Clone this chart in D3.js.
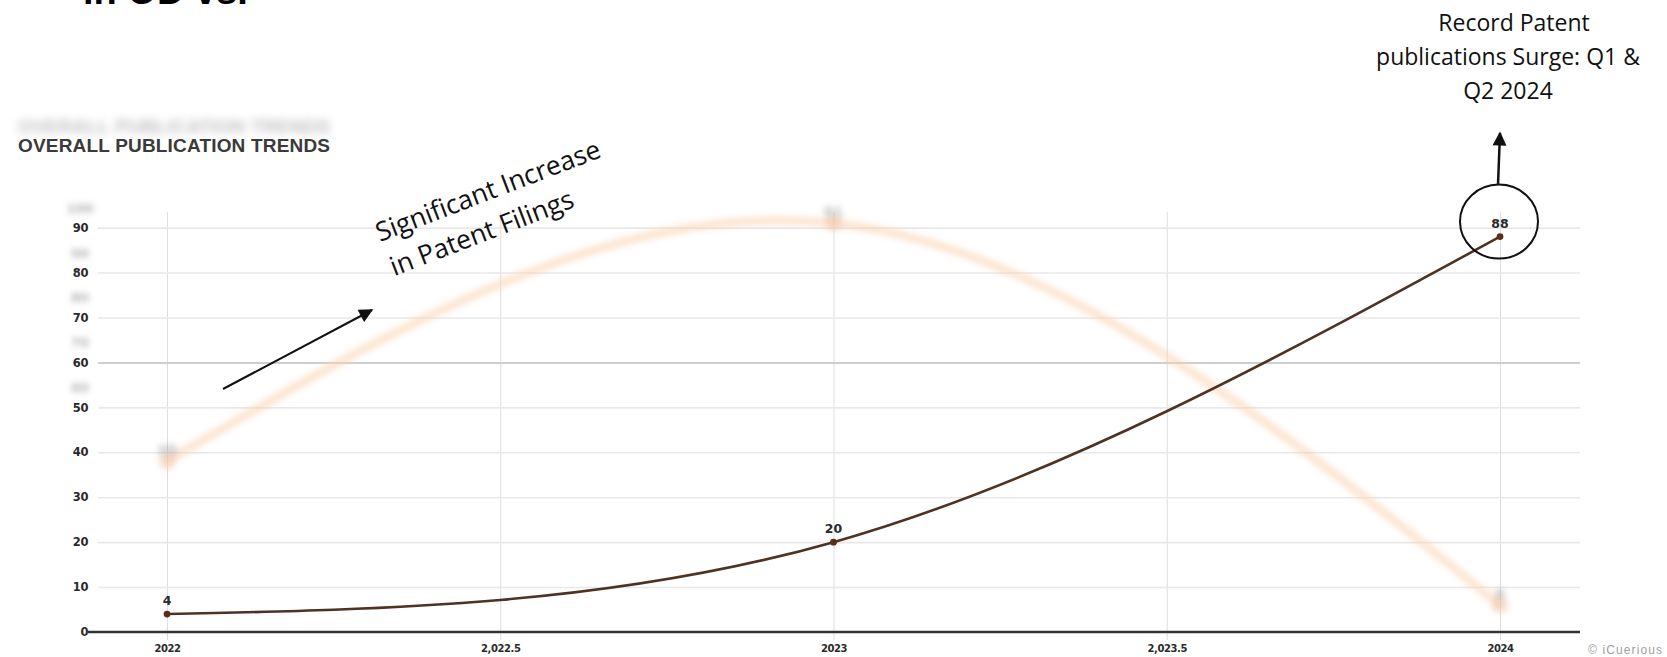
<!DOCTYPE html>
<html lang="en">
<head>
<meta charset="UTF-8">
<title>Overall Publication Trends</title>
<script src="https://cdn.jsdelivr.net/npm/d3@7"></script>
<style>
  body { margin: 0; background: #fff; }
  svg { display: block; }
</style>
</head>
<body>
<div id="chart"></div>
<script>
// data
const years = [2022, 2023, 2024];
const filings = [4, 20, 88];
// faded (blurred) background series
const ghostFilings = [38, 91, 6];
const xTicks = [2022, 2022.5, 2023, 2023.5, 2024];
const xTickLabels = ["2022", "2,022.5", "2023", "2,023.5", "2024"];
const yTicks = [0, 10, 20, 30, 40, 50, 60, 70, 80, 90];
const ghostYTicks = [50, 60, 70, 80, 90];
const ghostYLabels = ["60", "70", "80", "90", "100"];

const w = 1667, h = 657;
const left = 98, right = 1580;

const x = d3.scaleLinear().domain([2022, 2024]).range([167, 1500]);
const y = d3.scaleLinear().domain([0, 90]).range([632, 227.6]);

const svg = d3.select('#chart').append('svg')
  .attr('width', w).attr('height', h);

const defs = svg.append('defs');
const blur = (id, sd) => defs.append('filter')
  .attr('id', id).attr('filterUnits', 'userSpaceOnUse')
  .attr('x', 0).attr('y', 0).attr('width', w).attr('height', h)
  .append('feGaussianBlur').attr('stdDeviation', sd);
blur('blurLine', 3.4);
blur('blurText', 3);
blur('blurTitle', 4);

defs.append('marker')
  .attr('id', 'head')
  .attr('viewBox', '0 0 10 10')
  .attr('refX', 9).attr('refY', 5)
  .attr('markerUnits', 'userSpaceOnUse')
  .attr('markerWidth', 15).attr('markerHeight', 14)
  .attr('orient', 'auto')
  .append('path').attr('d', 'M0,0 L10,5 L0,10 z').attr('fill', '#111');

// cut-off heading at the very top
svg.append('text')
  .attr('x', 83).attr('y', 4)
  .style('font-family', 'Liberation Sans, Arial, sans-serif')
  .style('font-weight', 'bold').style('font-size', '38px')
  .attr('fill', '#000')
  .text('in OD vs.');

// ghost title and chart title
svg.append('text')
  .attr('x', 18).attr('y', 133)
  .attr('filter', 'url(#blurTitle)')
  .attr('fill', '#8a8a8a').attr('opacity', 0.55)
  .attr('textLength', 312)
  .style('font-family', 'Liberation Sans, Arial, sans-serif')
  .style('font-weight', 'bold').style('font-size', '19px')
  .text('OVERALL PUBLICATION TRENDS');

svg.append('text')
  .attr('x', 18).attr('y', 152)
  .attr('fill', '#3a3a3a')
  .attr('textLength', 312)
  .style('font-family', 'Liberation Sans, Arial, sans-serif')
  .style('font-weight', 'bold').style('font-size', '19px')
  .text('OVERALL PUBLICATION TRENDS');

// vertical grid
const xGrid = svg.append('g')
  .attr('transform', 'translate(0, 640)')
  .call(d3.axisBottom(x).tickValues(xTicks).tickSize(-428).tickFormat(''));
xGrid.select('.domain').remove();
xGrid.selectAll('line').attr('stroke', '#dedede').attr('stroke-width', 1);

// horizontal grid
const yGrid = svg.append('g')
  .attr('transform', `translate(${left}, 0)`)
  .call(d3.axisLeft(y).tickValues(yTicks.slice(1)).tickSize(-(right - left)).tickFormat(''));
yGrid.select('.domain').remove();
yGrid.selectAll('line')
  .attr('stroke', d => d === 60 ? '#cfcfcf' : '#e8e8e8')
  .attr('stroke-width', d => d === 60 ? 2 : 1.6);

// baseline
svg.append('line')
  .attr('x1', 88).attr('x2', right)
  .attr('y1', y(0)).attr('y2', y(0))
  .attr('stroke', '#333').attr('stroke-width', 2.6);

// ghost y labels
svg.append('g').selectAll('text')
  .data(ghostYTicks)
  .enter().append('text')
  .attr('x', 80).attr('y', d => y(d) - 15)
  .attr('text-anchor', 'middle')
  .attr('filter', 'url(#blurText)')
  .attr('fill', '#999').attr('opacity', 0.75)
  .style('font-family', 'DejaVu Sans, sans-serif')
  .style('font-weight', 'bold').style('font-size', '13px')
  .text((d, i) => ghostYLabels[i]);

// y axis labels
const yAxis = svg.append('g')
  .attr('transform', 'translate(88, 0)')
  .call(d3.axisLeft(y).tickValues(yTicks).tickSize(0).tickPadding(0));
yAxis.select('.domain').remove();
yAxis.selectAll('text')
  .attr('fill', '#2a2a2a')
  .style('font-family', 'DejaVu Sans, sans-serif')
  .style('font-weight', 'bold').style('font-size', '11.5px')
  .style('letter-spacing', '-0.4px');

// x axis labels
const xAxis = svg.append('g')
  .attr('transform', `translate(0, ${y(0)})`)
  .call(d3.axisBottom(x).tickValues(xTicks).tickSize(0).tickPadding(12.5)
    .tickFormat((d, i) => xTickLabels[i]));
xAxis.select('.domain').remove();
xAxis.selectAll('text')
  .attr('fill', '#2a2a2a')
  .style('font-family', 'DejaVu Sans, sans-serif')
  .style('font-weight', 'bold').style('font-size', '10px')
  .style('letter-spacing', '-0.4px');

// faded background series
const ghost = years.map((yr, i) => ({ year: yr, value: ghostFilings[i] }));
const line = d3.line()
  .x(d => x(d.year))
  .y(d => y(d.value))
  .curve(d3.curveNatural);

svg.append('path')
  .datum(ghost)
  .attr('d', line)
  .attr('fill', 'none')
  .attr('stroke', '#fbd0ad')
  .attr('stroke-width', 8)
  .attr('opacity', 0.6)
  .attr('filter', 'url(#blurLine)');

svg.append('g').selectAll('circle')
  .data(ghost)
  .enter().append('circle')
  .attr('cx', d => x(d.year))
  .attr('cy', d => y(d.value))
  .attr('r', 8)
  .attr('fill', '#f0c6a6')
  .attr('opacity', 0.6)
  .attr('filter', 'url(#blurLine)');

svg.append('g').selectAll('text')
  .data(ghost)
  .enter().append('text')
  .attr('x', d => x(d.year))
  .attr('y', d => y(d.value) - 6)
  .attr('text-anchor', 'middle')
  .attr('filter', 'url(#blurText)')
  .attr('fill', '#8a8a8a').attr('opacity', 0.6)
  .style('font-family', 'DejaVu Sans, sans-serif')
  .style('font-weight', 'bold').style('font-size', '14px')
  .text(d => d.value);

// main series
const series = years.map((yr, i) => ({ year: yr, value: filings[i] }));

svg.append('path')
  .datum(series)
  .attr('d', line)
  .attr('fill', 'none')
  .attr('stroke', '#4e3222')
  .attr('stroke-width', 2.6);

svg.append('g').selectAll('circle')
  .data(series)
  .enter().append('circle')
  .attr('cx', d => x(d.year))
  .attr('cy', d => y(d.value))
  .attr('r', 3.4)
  .attr('fill', '#5a2e1a');

svg.append('g').selectAll('text')
  .data(series)
  .enter().append('text')
  .attr('x', d => x(d.year))
  .attr('y', d => y(d.value) - 9)
  .attr('text-anchor', 'middle')
  .attr('fill', '#2a2a2a')
  .style('font-family', 'DejaVu Sans, sans-serif')
  .style('font-weight', 'bold').style('font-size', '12.5px')
  .text(d => d.value);

// annotation: rising trend
const note = svg.append('g')
  .attr('transform', 'translate(380, 242) rotate(-21)')
  .style('font-family', 'Open Sans, sans-serif')
  .style('font-size', '26.5px')
  .attr('fill', '#111');
note.append('text').attr('x', 0).attr('y', 0).text('Significant Increase');
note.append('text').attr('x', 1).attr('y', 37).text('in Patent Filings');

svg.append('line')
  .attr('x1', 223).attr('y1', 389)
  .attr('x2', 372).attr('y2', 310)
  .attr('stroke', '#111').attr('stroke-width', 2)
  .attr('marker-end', 'url(#head)');

// annotation: 2024 record
const last = series[series.length - 1];
const cx = x(last.year) - 1, cy = y(last.value) - 15;
svg.append('ellipse')
  .attr('cx', cx).attr('cy', cy)
  .attr('rx', 39).attr('ry', 37)
  .attr('fill', 'none')
  .attr('stroke', '#111').attr('stroke-width', 2);

svg.append('line')
  .attr('x1', cx - 1).attr('y1', cy - 37)
  .attr('x2', cx + 1).attr('y2', 133)
  .attr('stroke', '#111').attr('stroke-width', 2.5)
  .attr('marker-end', 'url(#head)');

const rec = svg.append('text')
  .attr('text-anchor', 'middle')
  .attr('fill', '#111')
  .style('font-family', 'Open Sans, sans-serif')
  .style('font-size', '23px');
rec.append('tspan').attr('x', 1514).attr('y', 31).text('Record Patent');
rec.append('tspan').attr('x', 1508).attr('y', 65).text('publications Surge: Q1 &');
rec.append('tspan').attr('x', 1508).attr('y', 99).text('Q2 2024');

// credit
svg.append('text')
  .attr('x', 1588).attr('y', 654)
  .attr('fill', '#a0a0a0')
  .attr('textLength', 74)
  .style('font-family', 'Liberation Sans, Arial, sans-serif')
  .style('font-size', '12px')
  .text('© iCuerious');
</script>
</body>
</html>
